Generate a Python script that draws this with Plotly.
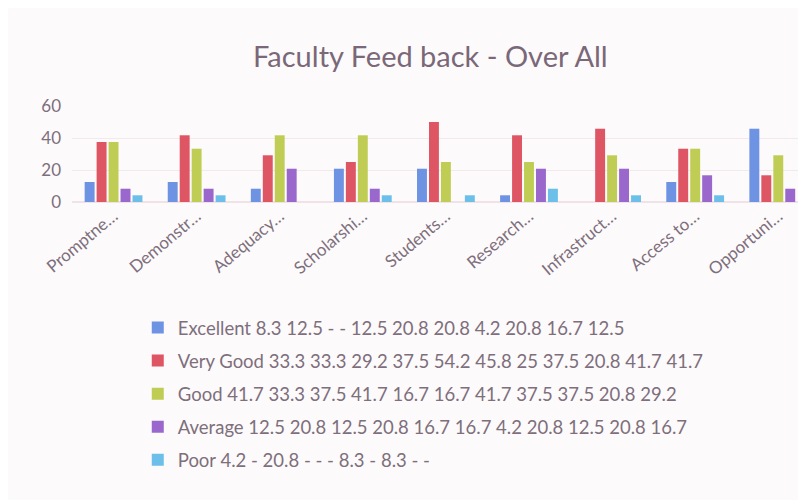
import plotly.graph_objects as go

categories = ["Promptne…", "Demonstr…", "Adequacy…", "Scholarshi…", "Students…",
              "Research…", "Infrastruct…", "Access to…", "Opportuni…"]

excellent = [12.5, 12.5, 8.3, 20.8, 20.8, 4.2, None, 12.5, 45.8]
very_good = [37.5, 41.7, 29.2, 25, 50, 41.7, 45.8, 33.3, 16.7]
good = [37.5, 33.3, 41.7, 41.7, 25, 25, 29.2, 33.3, 29.2]
average = [8.3, 8.3, 20.8, 8.3, None, 20.8, 20.8, 16.7, 8.3]
poor = [4.2, 4.2, None, 4.2, 4.2, 8.3, 4.2, 4.2, None]

legend_names = [
    "Excellent 8.3 12.5 - - 12.5 20.8 20.8 4.2 20.8 16.7 12.5",
    "Very Good 33.3 33.3 29.2 37.5 54.2 45.8 25 37.5 20.8 41.7 41.7",
    "Good 41.7 33.3 37.5 41.7 16.7 16.7 41.7 37.5 37.5 20.8 29.2",
    "Average 12.5 20.8 12.5 20.8 16.7 16.7 4.2 20.8 12.5 20.8 16.7",
    "Poor 4.2 - 20.8 - - - 8.3 - 8.3 - -",
]
series = [excellent, very_good, good, average, poor]
colors = ["#6e93e3", "#de5563", "#c0cd55", "#9a68cc", "#6cbfe8"]

fig = go.Figure()
for i, (name, vals, col) in enumerate(zip(legend_names, series, colors)):
    fig.add_trace(go.Bar(x=categories, y=vals, name=name, marker_color=col,
                         marker_line_width=0, legendgroup=f"g{i}"))

grey = "#7d6f7c"
fig.update_layout(
    width=806, height=500,
    paper_bgcolor="#fdfafb", plot_bgcolor="#fdfafb",
    font=dict(family="Lato, Open Sans, sans-serif", color=grey),
    title=dict(text="Faculty Feed back - Over All", x=0.524, xanchor="center",
               y=1 - 49 / 500, yanchor="middle", font=dict(size=29, color="#7a6878")),
    margin=dict(l=64, r=0, t=98, b=306, autoexpand=False),
    barmode="group", bargap=0.28, bargroupgap=0.17,
    showlegend=True,
    legend=dict(xref="container", yref="container", x=0.161, y=1 - 301 / 500,
                xanchor="left", yanchor="top", font=dict(size=18.5, color=grey),
                traceorder="grouped", tracegroupgap=6, bgcolor="rgba(0,0,0,0)"),
)
fig.update_xaxes(range=[-0.5, 8.43], tickangle=-40, tickfont=dict(size=17, color=grey),
                 showline=False, showgrid=False, ticks="")
fig.update_yaxes(range=[0, 60], tickvals=[0, 20, 40, 60], tickfont=dict(size=17, color=grey),
                 showgrid=True, gridcolor="#f3e8ec", zeroline=True, zerolinecolor="#efe3e8",
                 ticklabelstandoff=10)

fig.write_html("out.html")
